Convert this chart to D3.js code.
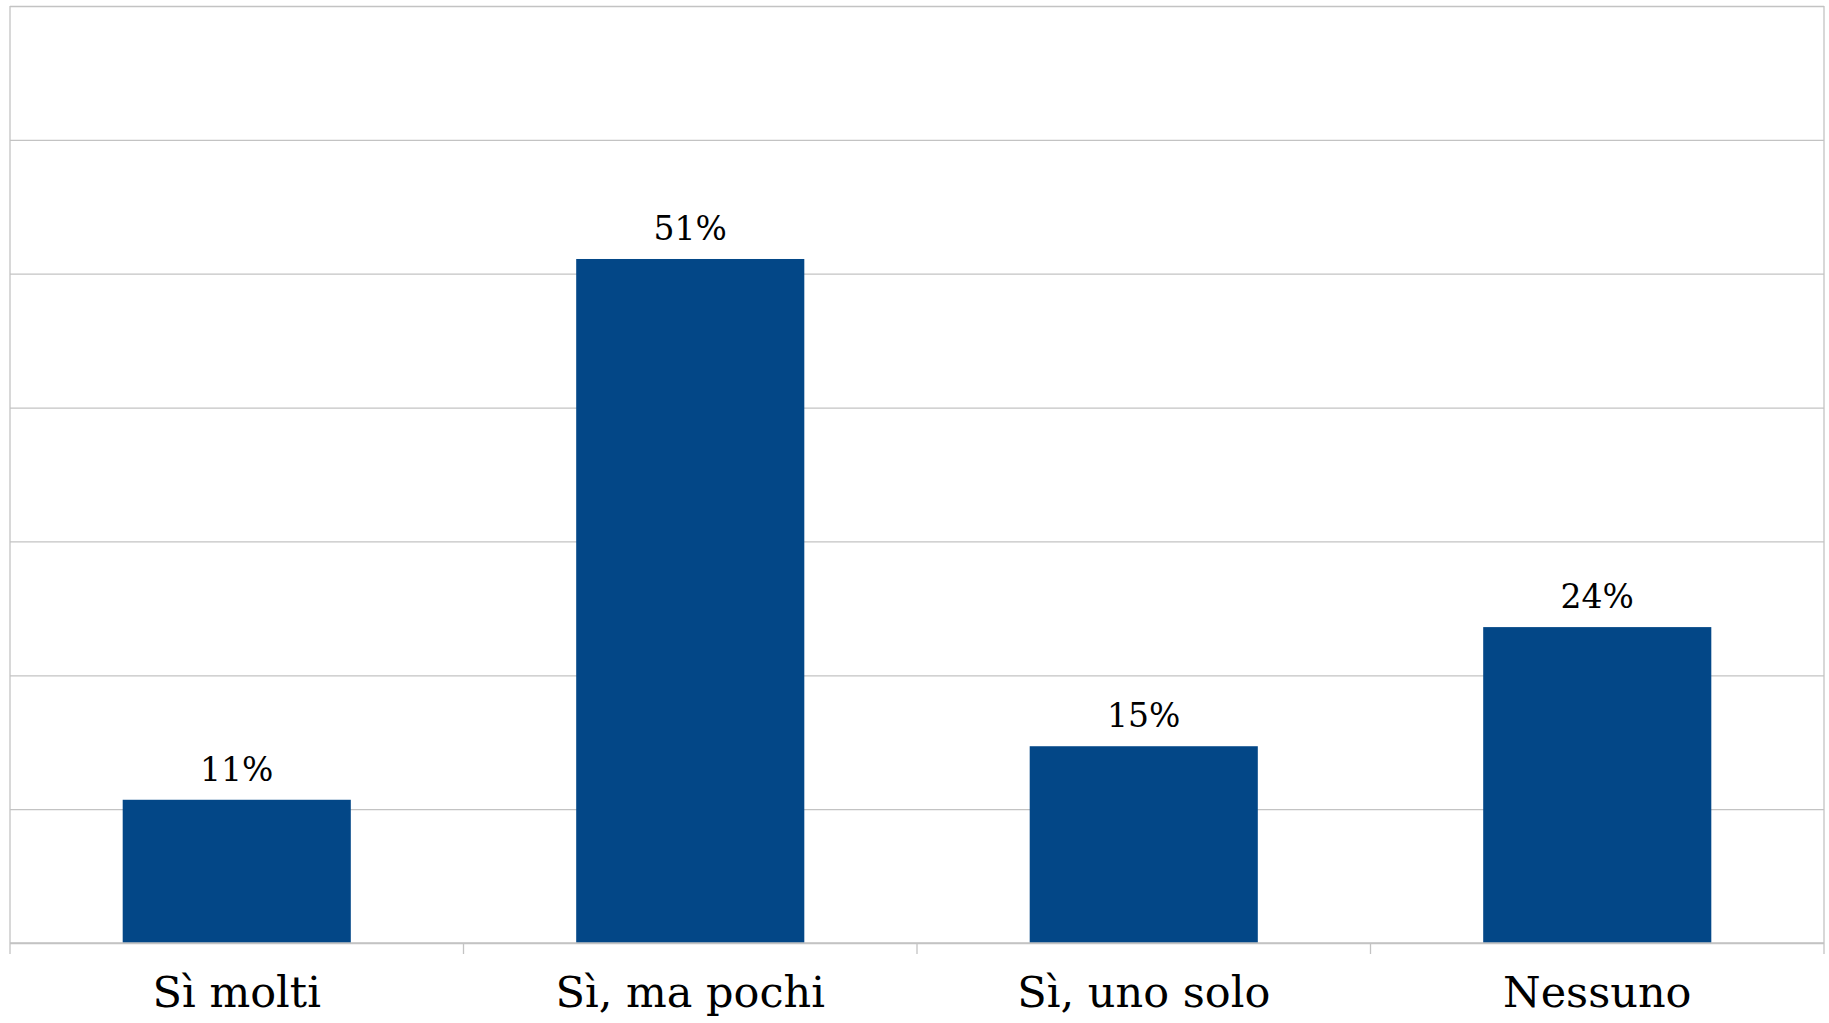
<!DOCTYPE html>
<html>
<head>
<meta charset="utf-8">
<script src="https://cdn.jsdelivr.net/npm/d3@7"></script>
<style>
  body { margin: 0; background: #fff; }
  svg { display: block; }
</style>
</head>
<body>
<div id="chart"></div>
<script>
var categories = ["Sì molti", "Sì, ma pochi", "Sì, uno solo", "Nessuno"];
var values = [0.107, 0.511, 0.147, 0.236];
var labels = ["11%", "51%", "15%", "24%"];
var gridTicks = [0, 0.1, 0.2, 0.3, 0.4, 0.5, 0.6, 0.7];

var W = 1829, H = 1023;
var margin = {top: 6, right: 5, bottom: 80, left: 10};
var width = W - margin.left - margin.right,
    height = H - margin.top - margin.bottom;

var svg = d3.select("#chart").append("svg")
    .attr("width", W)
    .attr("height", H);
var g = svg.append("g")
    .attr("transform", "translate(" + margin.left + "," + margin.top + ")");

var x = d3.scaleBand()
    .domain(categories)
    .range([0, width])
    .paddingInner(0.497)
    .paddingOuter(0.2485);
var y = d3.scaleLinear()
    .domain([0, 0.7])
    .range([height, 0]);

// horizontal gridlines (the top one doubles as the frame)
g.append("g")
    .attr("class", "grid")
    .call(d3.axisLeft(y).tickValues(gridTicks).tickSize(-width).tickFormat(""))
    .call(function (s) {
        s.select(".domain").remove();
        s.selectAll("line").attr("stroke", "#c3c3c3").attr("stroke-width", 1.3);
    });

// left & right frame
g.append("line")
    .attr("x1", 0).attr("x2", 0)
    .attr("y1", 0).attr("y2", height + 11)
    .attr("stroke", "#c3c3c3").attr("stroke-width", 1.3);
g.append("line")
    .attr("x1", width).attr("x2", width)
    .attr("y1", 0).attr("y2", height + 11)
    .attr("stroke", "#c3c3c3").attr("stroke-width", 1.3);

// category boundary ticks
var step = x.step();
g.selectAll(".sep")
    .data(categories.slice(1))
    .enter().append("line")
    .attr("class", "sep")
    .attr("x1", function (d) { return x(d) - x.bandwidth() * 0 - (step - x.bandwidth()) / 2; })
    .attr("x2", function (d) { return x(d) - (step - x.bandwidth()) / 2; })
    .attr("y1", height)
    .attr("y2", height + 11)
    .attr("stroke", "#c3c3c3").attr("stroke-width", 1.3);

// bars
g.selectAll(".bar")
    .data(values)
    .enter().append("rect")
    .attr("class", "bar")
    .attr("x", function (d, i) { return x(categories[i]); })
    .attr("width", x.bandwidth())
    .attr("y", function (d) { return y(d); })
    .attr("height", function (d) { return height - y(d); })
    .attr("fill", "#034787");

// value labels
g.selectAll(".val")
    .data(values)
    .enter().append("text")
    .attr("class", "val")
    .attr("x", function (d, i) { return x(categories[i]) + x.bandwidth() / 2; })
    .attr("y", function (d) { return y(d) - 19; })
    .attr("text-anchor", "middle")
    .style("font-family", "'DejaVu Serif', serif")
    .style("font-size", "33px")
    .attr("fill", "#000")
    .text(function (d, i) { return labels[i]; });

// x axis line
g.append("line")
    .attr("x1", 0).attr("x2", width)
    .attr("y1", height).attr("y2", height)
    .attr("stroke", "#c3c3c3").attr("stroke-width", 1.5);

// category labels
g.selectAll(".cat")
    .data(categories)
    .enter().append("text")
    .attr("class", "cat")
    .attr("x", function (d) { return x(d) + x.bandwidth() / 2; })
    .attr("y", height + 64)
    .attr("text-anchor", "middle")
    .style("font-family", "'DejaVu Serif', serif")
    .style("font-size", "43px")
    .attr("fill", "#000")
    .text(function (d) { return d; });
</script>
</body>
</html>
